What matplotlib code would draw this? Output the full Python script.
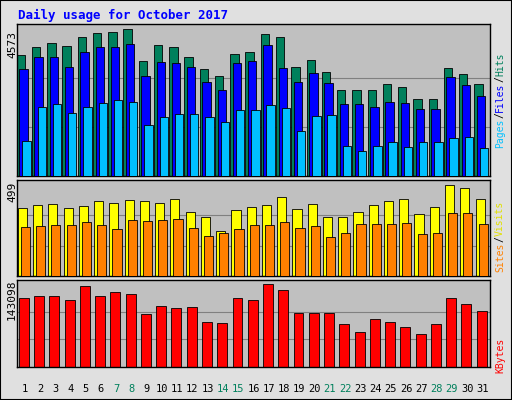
import matplotlib
matplotlib.use("Agg")
import matplotlib.pyplot as plt
import numpy as np

days = list(range(1, 32))
hits = [3764,4013,4137,4044,4324,4449,4480,4573,3578,4075,4013,3702,3329,3111,3795,3858,4417,4324,3391,3609,3235,2675,2675,2675,2862,2769,2395,2395,3360,3173,2862]
files = [3329,3702,3702,3391,3858,4013,4013,4106,3111,3547,3515,3391,2924,2675,3515,3578,4075,3360,2924,3204,2893,2240,2240,2147,2302,2271,2084,2084,3080,2831,2489]
pages = [1089,2147,2240,1960,2147,2271,2364,2302,1587,1835,1929,1929,1835,1680,2053,2053,2209,2115,1400,1867,1898,933,778,933,1058,902,1058,1058,1182,1213,871]
visits = [373,389,395,373,384,411,400,417,411,400,422,351,324,247,362,378,389,433,367,395,324,324,351,389,411,422,340,378,499,483,422]
sites = [269,274,280,280,296,280,258,307,302,307,313,263,219,236,258,280,280,296,263,274,214,236,285,285,285,291,230,236,345,345,285]
kbytes = [118956,122404,122404,115508,139650,122404,129300,125852,91372,105164,101716,103440,77580,75856,118956,115508,143098,132748,93096,93096,93096,74132,60340,82752,77580,68960,56892,74132,118956,108612,96544]
weekend = {7,8,14,15,21,22,28,29}

W, H = 512, 400
fig = plt.figure(figsize=(5.12, 4.0), dpi=100, facecolor="#E0E0E0")
fig.patches.append(plt.Rectangle((0, 0), 1, 1, transform=fig.transFigure, fill=False, ec="black", lw=1.5))

def ax_px(x0, y0, x1, y1):
    a = fig.add_axes([x0/W, 1-y1/H, (x1-x0)/W, (y1-y0)/H])
    a.set_facecolor("#C0C0C0")
    a.set_xlim(0.5, 31.5)
    a.set_xticks([]); a.set_yticks([])
    for s in a.spines.values():
        s.set_color("black"); s.set_linewidth(1)
    return a

mono = "DejaVu Sans Mono"
x = np.array(days)

def grid(a, m):
    for f in (1/3, 2/3):
        a.axhline(m*f, color="#808080", lw=0.8, zorder=0)

# Top
a1 = ax_px(17, 24, 490, 176)
m = max(hits); a1.set_ylim(0, m*1.035); grid(a1, m)
bw = 0.55
a1.bar(x-0.25, hits, bw, color="#00805C", ec="black", lw=0.6, zorder=2)
a1.bar(x-0.08, files, bw, color="#0000FF", ec="black", lw=0.6, zorder=3)
a1.bar(x+0.12, pages, bw, color="#00C0FF", ec="black", lw=0.6, zorder=4)
fig.text(12/W, 1-45/H, str(m), rotation=90, ha="center", va="center", family=mono, fontsize=8)

# Middle
a2 = ax_px(17, 180, 490, 276)
m = max(visits); a2.set_ylim(0, m*1.055); grid(a2, m)
a2.bar(x-0.15, visits, 0.6, color="#FFFF00", ec="black", lw=0.6, zorder=2)
a2.bar(x+0.05, sites, 0.6, color="#FF8000", ec="black", lw=0.6, zorder=3)
fig.text(12/W, 1-192/H, str(m), rotation=90, ha="center", va="center", family=mono, fontsize=8)

# Bottom
a3 = ax_px(17, 280, 490, 367)
m = max(kbytes); a3.set_ylim(0, m*1.048); grid(a3, m)
a3.bar(x-0.05, kbytes, 0.65, color="#FF0000", ec="black", lw=0.6, zorder=2)
fig.text(12/W, 1-300/H, str(m), rotation=90, ha="center", va="center", family=mono, fontsize=8)

# day labels
for d in days:
    xp = 17 + (d-0.5)*(473/31)
    fig.text(xp/W, 1-389/H, str(d), ha="center", va="center", family=mono, fontsize=7.5,
             color="#00805C" if d in weekend else "black")

fig.text(18/W, 1-15/H, "Daily usage for October 2017", color="#0000FF", family=mono,
         fontweight="bold", fontsize=9, va="center")

def vlabel(y_center, parts):
    total = sum(len(p) for p, c in parts)
    ch = 6.0
    y = y_center + total*ch/2
    for p, c in parts:
        yc = y - len(p)*ch/2
        fig.text(500/W, 1-yc/H, p, rotation=90, ha="center", va="center", family=mono,
                 fontsize=7, color=c)
        y -= len(p)*ch

vlabel(100, [("Pages", "#00C0FF"), ("/", "black"), ("Files", "#0000FF"), ("/", "black"), ("Hits", "#00805C")])
vlabel(236, [("Sites", "#FF8000"), ("/", "black"), ("Visits", "#E0E000")])
vlabel(355, [("KBytes", "#FF0000")])

fig.savefig("out.png", dpi=100, facecolor=fig.get_facecolor())
